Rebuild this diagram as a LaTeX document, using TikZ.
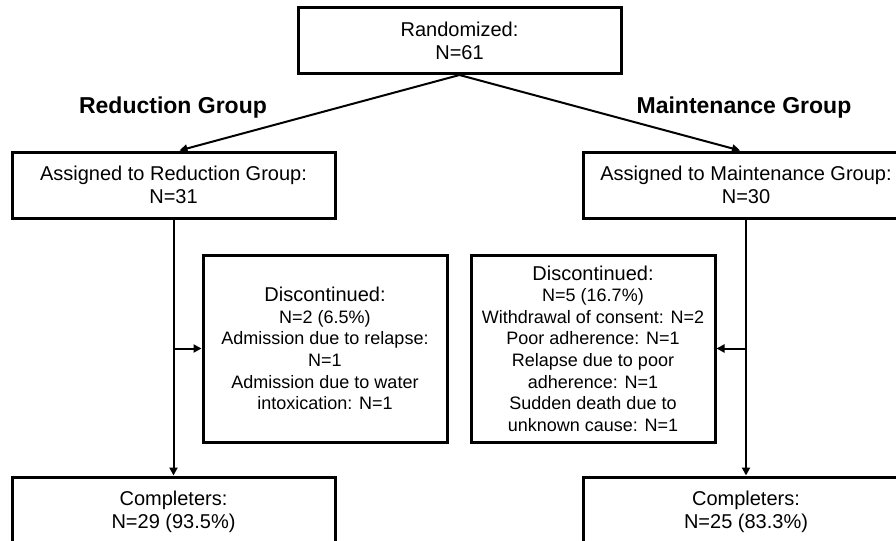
\documentclass[tikz,border=0pt]{standalone}
\usepackage{fontspec}
\setmainfont{Liberation Sans}
\usetikzlibrary{arrows.meta}

\begin{document}
\begin{tikzpicture}[x=0.5pt, y=-0.5pt,
  % Node Styles
  boxnode/.style={rectangle, draw, line width=1.5pt, minimum width=161.5pt, minimum height=33pt, inner sep=0pt, align=center, font=\fontsize{10}{11.5}\selectfont},
  discnode/.style={rectangle, draw, line width=1.5pt, minimum width=122pt, minimum height=93.5pt, inner sep=0pt, align=center, font=\fontsize{9}{10.8}\selectfont},
  grouplabel/.style={inner sep=0pt, font=\fontsize{11.5}{13}\selectfont\bfseries},
  % Arrow Styles
  solidarrow/.style={-{Triangle[length=4pt, width=4pt]}, line width=1pt}
]
\useasboundingbox (0,0) rectangle (896,541);
\clip (0,0) rectangle (896,541);

% Flow chart: randomization and follow-up

\node[boxnode] (N_rand) at (459.5,40.5) {Randomized:\\ N=61};

\node[grouplabel] (L_red) at (173,108) {Reduction Group};
\node[grouplabel] (L_main) at (744,108) {Maintenance Group};

\node[boxnode] (N_red) at (173.5,185) {Assigned to Reduction Group:\\ N=31};
\node[boxnode, minimum width=163pt] (N_main) at (746,185) {Assigned to Maintenance Group:\\ N=30};

\node[discnode] (D_red) at (325,348.5) {\fontsize{10}{11.5}\selectfont Discontinued:\\ N=2 (6.5\%)\\ \fontsize{9}{10.8}\selectfont Admission due to relapse:\\ N=1\\ Admission due to water\\ intoxication: N=1};
\node[discnode] (D_main) at (593,348.5) {\fontsize{10}{11.5}\selectfont Discontinued:\\ N=5 (16.7\%)\\ \fontsize{9}{10.8}\selectfont Withdrawal of consent: N=2\\ Poor adherence: N=1\\ Relapse due to poor\\ adherence: N=1\\ Sudden death due to\\ unknown cause: N=1};

\node[boxnode, minimum height=35pt] (C_red) at (173.5,512) {Completers:\\ N=29 (93.5\%)};
\node[boxnode, minimum width=163pt, minimum height=35pt] (C_main) at (746,512) {Completers:\\ N=25 (83.3\%)};

\draw[solidarrow] (N_rand.south) -- ([xshift=3pt]N_red.north);
\draw[solidarrow] (N_rand.south) -- ([xshift=-3pt]N_main.north);

\draw[solidarrow] (N_red.south) -- (C_red.north);
\draw[solidarrow] (N_main.south) -- (C_main.north);

\draw[solidarrow] (N_red.south |- D_red.west) -- (D_red.west);
\draw[solidarrow] (N_main.south |- D_main.east) -- (D_main.east);

\end{tikzpicture}
\end{document}
